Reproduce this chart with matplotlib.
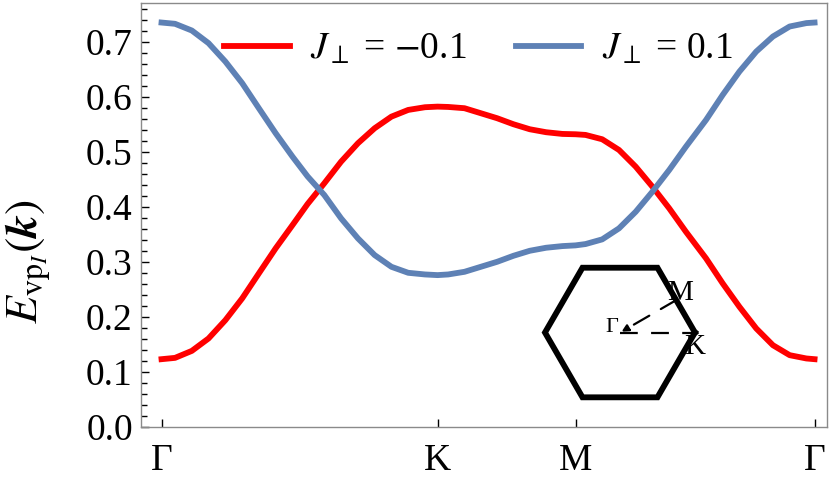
import numpy as np
import matplotlib

matplotlib.use("Agg")
import matplotlib.pyplot as plt
from matplotlib.ticker import MultipleLocator

plt.rcParams["font.family"] = ["Liberation Serif", "DejaVu Serif"]
plt.rcParams["mathtext.fontset"] = "stix"

# high-symmetry points along the path (k-path length)
TICK_POS = [0.0, 4.189, 6.283, 9.911]
TICK_LABELS = ["Γ", "K", "M", "Γ"]

# values
k_path = [0.0, 0.205, 0.460, 0.713, 0.969, 1.224, 1.477, 1.732, 1.988, 2.217,
          2.470, 2.725, 2.981, 3.234, 3.489, 3.744, 3.998, 4.189,
          4.351, 4.598, 4.846, 5.094, 5.341, 5.589, 5.837, 6.084, 6.283,
          6.435, 6.688, 6.943, 7.197, 7.450, 7.705, 7.959, 8.264, 8.517,
          8.771, 9.026, 9.279, 9.533, 9.787, 9.911]
e_neg = [0.1231, 0.1255, 0.1382, 0.1607, 0.1940, 0.2335, 0.2789, 0.3244, 0.3667, 0.4050,
         0.4425, 0.4818, 0.5153, 0.5425, 0.5636, 0.5758, 0.5807, 0.5818,
         0.5812, 0.5789, 0.5698, 0.5607, 0.5498, 0.5407, 0.5353, 0.5322, 0.5316,
         0.5304, 0.5225, 0.5031, 0.4727, 0.4364, 0.3971, 0.3545, 0.3062, 0.2607,
         0.2182, 0.1789, 0.1485, 0.1304, 0.1244, 0.1231]
e_pos = [0.7345, 0.7322, 0.7200, 0.6971, 0.6636, 0.6244, 0.5789, 0.5335, 0.4909, 0.4550,
         0.4213, 0.3789, 0.3425, 0.3122, 0.2909, 0.2800, 0.2770, 0.2758,
         0.2770, 0.2818, 0.2909, 0.3000, 0.3109, 0.3200, 0.3255, 0.3285, 0.3298,
         0.3322, 0.3407, 0.3607, 0.3909, 0.4273, 0.4667, 0.5091, 0.5576, 0.6031,
         0.6455, 0.6818, 0.7091, 0.7273, 0.7335, 0.7345]

RED = "#FF0000"
BLUE = "#5E81B5"
FS = 27

fig = plt.figure(figsize=(8.3, 4.83), dpi=100)
ax = fig.add_axes([0.170, 0.116, 0.8264, 0.8778])

ax.plot(k_path, e_neg, color=RED, lw=4.2, label=r"$J_{\perp}$ = $-$0.1", solid_joinstyle="round")
ax.plot(k_path, e_pos, color=BLUE, lw=4.2, label=r"$J_{\perp}$ = 0.1", solid_joinstyle="round")

ax.set_xlim(-0.31, 10.10)
ax.set_ylim(0.0, 0.77)
ax.set_xticks(TICK_POS)
ax.set_xticklabels(TICK_LABELS)
ax.yaxis.set_major_locator(MultipleLocator(0.1))
ax.yaxis.set_minor_locator(MultipleLocator(0.02))
ax.yaxis.set_major_formatter(plt.FormatStrFormatter("%.1f"))

for s in ax.spines.values():
    s.set_color("#8a8a8a")
    s.set_linewidth(1.0)
ax.tick_params(axis="both", which="both", direction="in", colors="black", labelsize=FS)
ax.tick_params(axis="y", which="major", length=6, width=1.0, pad=6)
ax.tick_params(axis="y", which="minor", length=4, width=1.0)
ax.tick_params(axis="x", which="major", length=6, width=1.0, pad=12)
ax.tick_params(axis="x", which="minor", length=0)

ax.set_ylabel(r"$E_{\mathrm{vp}_I}(\boldsymbol{k})$", fontsize=33)
ax.yaxis.set_label_coords(-0.13, 0.39)

ax.legend(loc="center", bbox_to_anchor=(0.492, 0.889), ncol=2, frameon=False,
          fontsize=FS, handlelength=1.75, handletextpad=0.55, columnspacing=1.3,
          borderpad=0, borderaxespad=0)

# Brillouin zone inset
ins = fig.add_axes([0.6566, 0.1774, 0.1807, 0.2683])
ins.set_xlim(-1, 1)
ins.set_ylim(-0.866, 0.866)
ins.axis("off")
ang = np.deg2rad(np.arange(0, 420, 60))
ins.plot(np.cos(ang), np.sin(ang), color="black", lw=4.2, clip_on=False, solid_joinstyle="miter")
ins.plot([0, 1], [0, 0], color="black", lw=1.6, ls=(0, (8, 6)), clip_on=False)
ins.annotate("", xy=(0.02, 0.01), xytext=(0.75, 0.433),
             arrowprops=dict(arrowstyle="-|>", color="black", lw=1.6, ls=(0, (8, 6)),
                             mutation_scale=10, shrinkA=0, shrinkB=0),
             annotation_clip=False)
ins.text(-0.11, 0.07, "Γ", fontsize=16, ha="center", va="center")
ins.text(0.80, 0.53, "M", fontsize=21, ha="center", va="center")
ins.text(1.00, -0.19, "K", fontsize=21, ha="center", va="center")

fig.savefig("out.png", dpi=100)
